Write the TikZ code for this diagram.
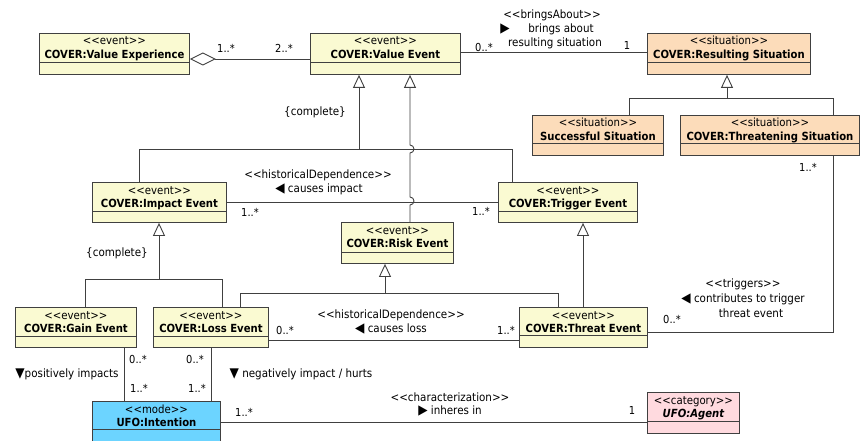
\documentclass[tikz,border=0pt]{standalone}
\usepackage{fontspec}
\setmainfont{DejaVu Sans}[FakeStretch=0.9, Ligatures=TeXOff]
\usetikzlibrary{arrows.meta}
\definecolor{lc}{HTML}{404040}
\definecolor{evfill}{HTML}{FAFAD2}
\definecolor{sitfill}{HTML}{FCDCBA}
\definecolor{catfill}{HTML}{FFDADF}
\definecolor{modefill}{HTML}{6CD4FF}
\newcommand\umlcls[9]{%
  \node[cls, fill=#7, minimum width=#4pt, minimum height=#5pt] (#1) at (#2,#3) {};
  \draw[ln] ([yshift=-#6pt]#1.north west) -- ([yshift=-#6pt]#1.north east);
  \node[anchor=base, inner sep=0pt, font=\fontsize{11.3}{13}\selectfont] at ([yshift=-12pt]#1.north) {#8};
  \node[anchor=base, inner sep=0pt, font=\fontsize{11.2}{13}\selectfont\bfseries] at ([yshift=-25.5pt]#1.north) {#9};
}
\newcommand\trig[1]{{\fontsize{13.5}{13}\selectfont #1}}
\begin{document}
\begin{tikzpicture}[x=1pt, y=-1pt, font=\fontsize{11.5}{13}\selectfont,
  cls/.style={draw=lc, line width=0.9pt, inner sep=0pt, anchor=north west},
  ln/.style={draw=lc, line width=0.9pt},
  gen/.style={ln, -{Triangle[open, length=13pt, width=12pt, fill=white]}},
  lbl/.style={inner sep=0pt},
  mult/.style={inner sep=0pt, font=\fontsize{11}{12}\selectfont}]
\fill[white] (0,0) rectangle (862,441);
\useasboundingbox (0,0) rectangle (862,441);

% classes
\umlcls{valexp}{39}{33}{150}{41}{29}{evfill}{<<event>>}{COVER:Value Experience}
\umlcls{valev}{310}{33}{150}{41}{29}{evfill}{<<event>>}{COVER:Value Event}
\umlcls{ressit}{647}{33}{163}{41}{29}{sitfill}{<<situation>>}{COVER:Resulting Situation}
\umlcls{succ}{532}{115}{131}{40}{28}{sitfill}{<<situation>>}{Successful Situation}
\umlcls{threatsit}{680}{115}{179}{40}{28}{sitfill}{<<situation>>}{COVER:Threatening Situation}
\umlcls{impact}{92}{182}{134}{40}{29}{evfill}{<<event>>}{COVER:Impact Event}
\umlcls{trig}{498}{182}{139}{40}{29}{evfill}{<<event>>}{COVER:Trigger Event}
\umlcls{risk}{341}{222}{112}{41}{30}{evfill}{<<event>>}{COVER:Risk Event}
\umlcls{gain}{15}{307}{121}{40}{29}{evfill}{<<event>>}{COVER:Gain Event}
\umlcls{loss}{153}{307}{115}{40}{29}{evfill}{<<event>>}{COVER:Loss Event}
\umlcls{threat}{519}{307}{128}{40}{28}{evfill}{<<event>>}{COVER:Threat Event}
\umlcls{intent}{92}{401}{128}{40}{28}{modefill}{<<mode>>}{UFO:Intention}
\umlcls{agent}{647}{392}{92}{41}{29}{catfill}{<<category>>}{\itshape UFO:Agent}

% connectors
\draw[ln, {Diamond[open, length=26pt, width=13pt, fill=white]}-] (valexp.east |- 0,59) -- (valev.west |- 0,59);
\draw[ln] (valev.east |- 0,52) -- (ressit.west |- 0,52);

\draw[gen] (629,0 |- succ.north) |- (727,98) -- (727,0 |- ressit.south);
\draw[ln] (833,0 |- threatsit.north) |- (727,98);

\draw[gen] (139,0 |- impact.north) |- (359,149) -- (359,0 |- valev.south);
\draw[ln] (512,0 |- trig.north) |- (359,149);
\draw[gen] (410,0 |- risk.north) -- (410,205) arc[start angle=-90, end angle=90, radius=4pt]
  -- (410,153) arc[start angle=-90, end angle=90, radius=4pt] -- (410,0 |- valev.south);

\draw[ln] (impact.east) -- (trig.west);

\draw[gen] (240,0 |- loss.north) |- (385,293) -- (385,0 |- risk.south);
\draw[ln] (558,0 |- threat.north) |- (385,293);

\draw[gen] (85,0 |- gain.north) |- (159,279) -- (159,0 |- impact.south);
\draw[ln] (222,0 |- loss.north) |- (159,279);

\draw[gen] (583,0 |- threat.north) -- (583,0 |- trig.south);

\draw[ln] (loss.east |- 0,340) -- (threat.west |- 0,340);
\draw[ln] (833,0 |- threatsit.south) |- (threat.east |- 0,332);

\draw[ln] (124,0 |- gain.south) -- (124,0 |- intent.north);
\draw[ln] (211,0 |- loss.south) -- (211,0 |- intent.north);
\draw[ln] (intent.east |- 0,422) -- (agent.west |- 0,422);

% labels
\node[mult] (m1) at (226,48) {1..*};
\node[mult] (m2) at (284,48) {2..*};
\node[mult] (m3) at (484,47) {0..*};
\node[mult] (m4) at (627,45) {1};
\node[lbl] (ba1) at (552,15) {<<bringsAbout>>};
\node[lbl] (ba2) at (505,29) {\trig{▶}};
\node[lbl] (ba3) at (561,29) {brings about};
\node[lbl] (ba4) at (555,43) {resulting situation};
\node[lbl] (c1) at (315,112) {\{complete\}};
\node[lbl] (c2) at (117,253) {\{complete\}};
\node[lbl] (hd1) at (318,175) {<<historicalDependence>>};
\node[lbl] (ci) at (319,189) {\trig{◀} causes impact};
\node[mult] (m5) at (250,212) {1..*};
\node[mult] (m6) at (481,211) {1..*};
\node[lbl] (hd2) at (391,315) {<<historicalDependence>>};
\node[lbl] (cl) at (391,329) {\trig{◀} causes loss};
\node[mult] (m7) at (285,330) {0..*};
\node[mult] (m8) at (506,330) {1..*};
\node[mult] (m9) at (808,167) {1..*};
\node[mult] (m10) at (672,319) {0..*};
\node[lbl] (tr1) at (743,284) {<<triggers>>};
\node[lbl] (tr2) at (743,299) {\trig{◀} contributes to trigger};
\node[lbl] (tr3) at (751,313) {threat event};
\node[mult] (m11) at (138,359) {0..*};
\node[mult] (m12) at (139,388) {1..*};
\node[mult] (m13) at (195,359) {0..*};
\node[mult] (m14) at (197,388) {1..*};
\node[lbl] (pi) at (67,374) {\trig{▼}positively impacts};
\node[lbl] (ni) at (301,374) {\trig{▼} negatively impact / hurts};
\node[mult] (m15) at (244,412) {1..*};
\node[mult] (m16) at (632,410) {1};
\node[lbl] (ch1) at (450,397) {<<characterization>>};
\node[lbl] (ch2) at (450,411) {\trig{▶} inheres in};
\end{tikzpicture}
\end{document}
